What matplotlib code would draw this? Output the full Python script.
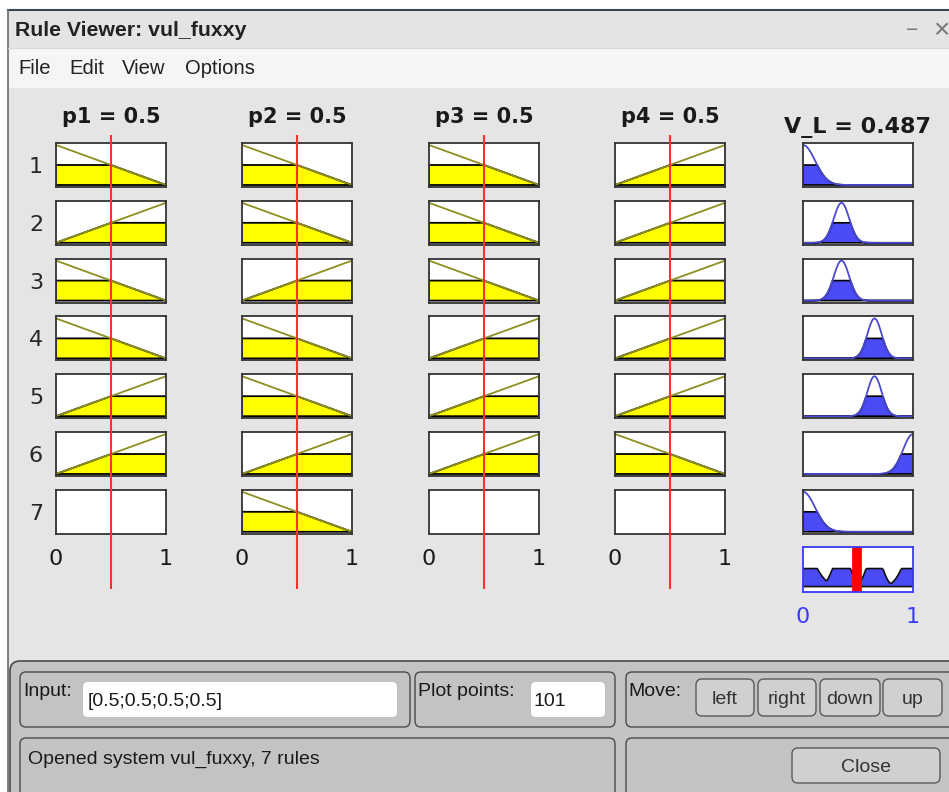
import numpy as np
import matplotlib
matplotlib.use("Agg")
import matplotlib.pyplot as plt
from matplotlib.patches import Rectangle, FancyBboxPatch

# fuzzy system state
system_name = "vul_fuxxy"
input_names = ["p1", "p2", "p3", "p4"]
input_values = [0.5, 0.5, 0.5, 0.5]
output_name = "V_L"
output_value = 0.487
plot_points = 101

# input membership function used by each rule: 'dec' = falling ramp, 'inc' = rising ramp
rule_inputs = [
    ["dec", "dec", "dec", "inc"],
    ["inc", "dec", "dec", "inc"],
    ["dec", "inc", "dec", "inc"],
    ["dec", "dec", "inc", "inc"],
    ["inc", "dec", "inc", "inc"],
    ["inc", "inc", "inc", "dec"],
    [None, "dec", None, None],
]
# gaussian output mf per rule
out_centers = [0.0, 0.35, 0.35, 0.65, 0.65, 1.0, 0.0]
out_sigmas = [0.11, 0.07, 0.07, 0.065, 0.065, 0.09, 0.11]

W, H = 949, 792
fig = plt.figure(figsize=(W / 100, H / 100), dpi=100)
fig.patch.set_facecolor("white")

bg = fig.add_axes([0, 0, 1, 1])
bg.set_xlim(0, W)
bg.set_ylim(H, 0)
bg.axis("off")

UI = "Liberation Sans"
DV = "DejaVu Sans"
UI_SIZE = 14

# window chrome
bg.add_patch(Rectangle((8, 10), W, 38, fc="#e4e4e4", ec="none"))
bg.add_patch(Rectangle((8, 48), W, 40, fc="#f5f5f5", ec="none"))
bg.add_patch(Rectangle((8, 88), W, H, fc="#e5e5e5", ec="none"))
bg.plot([8, W], [10, 10], color="#3a4550", lw=1.5)
bg.plot([8, 8], [10, H], color="#6a6a6a", lw=1.2)
bg.plot([8, W], [48, 48], color="#d8d8d8", lw=0.8)
bg.text(15, 31, "Rule Viewer: " + system_name, fontsize=15.3, fontweight="bold",
        family=UI, color="#222222", va="center")
bg.text(906, 31, "\u2212", fontsize=15, family=UI, color="#777777", va="center")
bg.text(933, 31, "\u00d7", fontsize=20, family=UI, color="#777777", va="center")
for word, wx in zip(["File", "Edit", "View", "Options"], [18, 69, 122, 185]):
    bg.text(wx, 69, word, fontsize=14.6, family=UI, color="#222222", va="center")


def rbox(x0, y0, x1, y1, fc, ec, lw=1.0, r=6):
    bg.add_patch(FancyBboxPatch((x0, y0), x1 - x0, y1 - y0,
                                boxstyle=f"round,pad=0,rounding_size={r}",
                                fc=fc, ec=ec, lw=lw))


# bottom control panel
panel = "#c3c3c3"
rbox(10, 661, W + 20, H + 20, panel, "#4a4a4a", 1.2, 10)
rbox(20, 672, 410, 727, panel, "#4a4a4a")
rbox(415, 672, 615, 727, panel, "#4a4a4a")
rbox(626, 672, W + 10, 727, panel, "#4a4a4a")
rbox(20, 738, 615, H + 10, panel, "#4a4a4a")
rbox(626, 738, W + 10, H + 10, panel, "#4a4a4a")
rbox(83, 682, 397, 717, "white", "none", r=5)
rbox(531, 682, 605, 717, "white", "none", r=5)

bg.text(23, 692, "Input:", fontsize=UI_SIZE, family=UI, color="#1a1a1a", va="center")
bg.text(88, 702, "[" + ";".join(f"{v:g}" for v in input_values) + "]",
        fontsize=UI_SIZE, family=UI, color="#1a1a1a", va="center")
bg.text(418, 692, "Plot points:", fontsize=UI_SIZE, family=UI, color="#1a1a1a", va="center")
bg.text(534, 702, str(plot_points), fontsize=UI_SIZE, family=UI, color="#1a1a1a", va="center")
bg.text(628, 692, "Move:", fontsize=UI_SIZE, family=UI, color="#1a1a1a", va="center")
for lab, (bx0, bx1) in zip(["left", "right", "down", "up"],
                           [(696, 754), (758, 816), (820, 880), (883, 942)]):
    rbox(bx0, 679, bx1, 716, "#d0d0d0", "#5a5a5a", 1.0, 6)
    bg.text((bx0 + bx1) / 2, 699, lab, fontsize=UI_SIZE, family=UI, color="#333333",
            ha="center", va="center")
bg.text(28, 759, f"Opened system {system_name}, {len(rule_inputs)} rules",
        fontsize=UI_SIZE, family=UI, color="#1a1a1a", va="center")
rbox(792, 748, 940, 783, "#d0d0d0", "#5a5a5a", 1.0, 6)
bg.text(866, 767, "Close", fontsize=UI_SIZE, family=UI, color="#333333",
        ha="center", va="center")

# rule plots
col_x = [56, 242, 429, 615]
out_x = 803
box_w = 110
row_y0 = 143
row_step = 57.8
box_h = 44

x = np.linspace(0, 1, plot_points)


def ramp(kind, t):
    return 1 - t if kind == "dec" else t


def add_box(px, py, w=box_w, h=box_h):
    ax = fig.add_axes([px / W, 1 - (py + h) / H, w / W, h / H])
    ax.set_xlim(0, 1)
    ax.set_ylim(-0.05, 1.05)
    ax.set_xticks([])
    ax.set_yticks([])
    for s in ax.spines.values():
        s.set_color("#333333")
        s.set_linewidth(1.3)
    return ax


strengths = []
input_axes = [[] for _ in input_names]
for r, rule in enumerate(rule_inputs):
    py = row_y0 + r * row_step
    degrees = []
    for c, kind in enumerate(rule):
        ax = add_box(col_x[c], py)
        input_axes[c].append(ax)
        if kind is None:
            continue
        mu = ramp(kind, x)
        deg = ramp(kind, input_values[c])
        degrees.append(deg)
        ax.plot(x, mu, color="#8f8f1f", lw=1.3)
        clipped = np.minimum(mu, deg)
        ax.fill(np.r_[x, x[::-1]], np.r_[clipped, np.zeros_like(x)],
                fc="#ffff00", ec="black", lw=1.3)
    w = min(degrees)
    strengths.append(w)
    bg.text(36, py + box_h / 2 + 2, str(r + 1), fontsize=16, family=DV,
            color="#262626", ha="center", va="center")

    # consequent
    ax = add_box(out_x, py)
    mu = np.exp(-0.5 * ((x - out_centers[r]) / out_sigmas[r]) ** 2)
    ax.fill(np.r_[x, x[::-1]], np.r_[np.minimum(mu, w), np.zeros_like(x)],
            fc="#4b4bf5", ec="black", lw=1.2)
    ax.plot(x, mu, color="#4a4ad2", lw=1.3)

# aggregated output
agg = np.zeros_like(x)
for r, w in enumerate(strengths):
    mu = np.exp(-0.5 * ((x - out_centers[r]) / out_sigmas[r]) ** 2)
    agg = np.maximum(agg, np.minimum(mu, w))

agg_y = row_y0 + len(rule_inputs) * row_step - 1
ax = fig.add_axes([out_x / W, 1 - (agg_y + 45) / H, box_w / W, 45 / H])
ax.set_xlim(0, 1)
ax.set_ylim(-0.14, 1.11)
ax.fill(np.r_[x, x[::-1]], np.r_[agg, np.zeros_like(x)],
        fc="#4b4bf5", ec="#111111", lw=1.2)
ax.axvline(output_value, color="red", lw=7)
ax.set_yticks([])
ax.set_xticks([0, 1])
ax.set_xticklabels(["0", "1"])
ax.tick_params(axis="x", length=0, pad=11, labelsize=16, labelcolor="#3a3aff")
for s in ax.spines.values():
    s.set_color("#3a3aff")
    s.set_linewidth(1.3)

# tick labels under the input columns
for c in range(len(input_names)):
    last = input_axes[c][-1]
    last.set_xticks([0, 1])
    last.set_xticklabels(["0", "1"])
    last.tick_params(axis="x", length=0, pad=11, labelsize=16, labelcolor="#1a1a1a")

# titles and input markers
for c, name in enumerate(input_names):
    bg.text(col_x[c] + box_w / 2, 117, f"{name} = {input_values[c]:g}", fontsize=15,
            fontweight="bold", family=DV, color="#1a1a1a", ha="center", va="center")
    ov = fig.add_axes([col_x[c] / W, 1 - 589 / H, box_w / W, (589 - 135) / H])
    ov.set_xlim(0, 1)
    ov.axis("off")
    ov.patch.set_alpha(0)
    ov.axvline(input_values[c], color="#ff3030", lw=1.5)
bg.text(out_x + box_w / 2, 127, f"{output_name} = {output_value:g}", fontsize=16,
        fontweight="bold", family=DV, color="#1a1a1a", ha="center", va="center")

fig.savefig("out.png", dpi=100)
